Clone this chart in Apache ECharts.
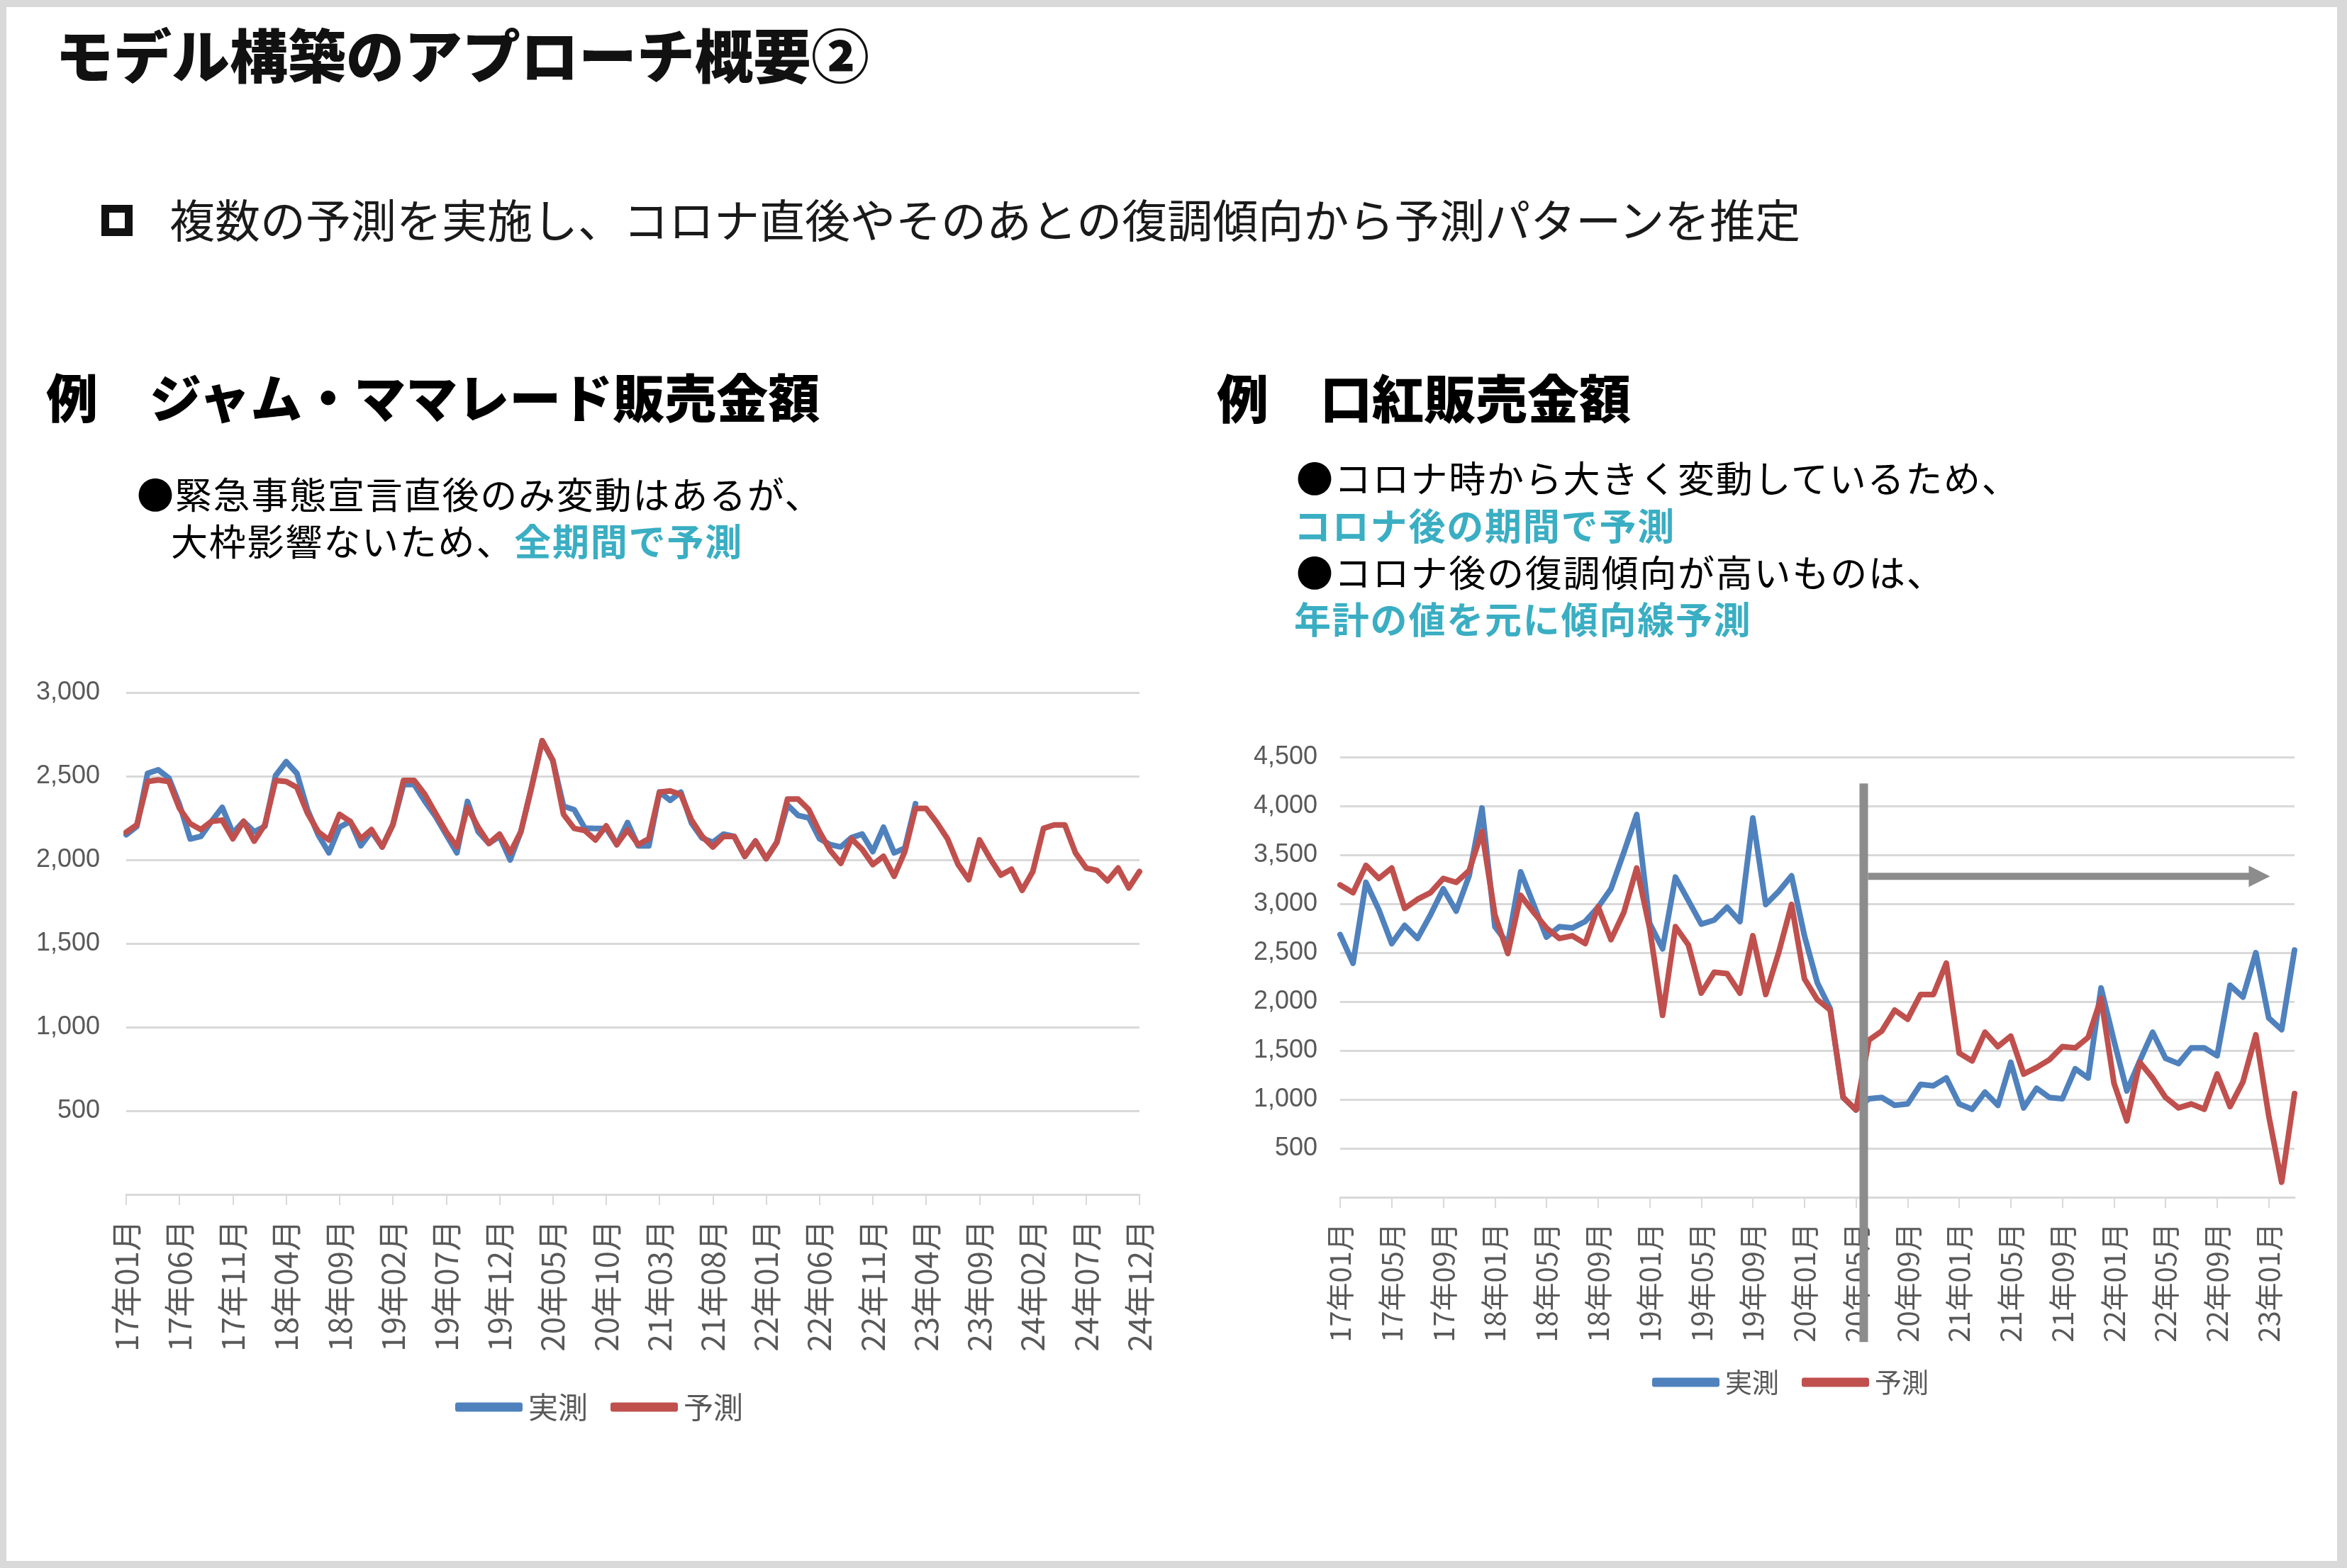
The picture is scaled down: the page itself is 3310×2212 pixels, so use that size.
<!DOCTYPE html>
<html lang="ja">
<head>
<meta charset="utf-8">
<title>モデル構築のアプローチ概要②</title>
<script src="https://cdn.jsdelivr.net/npm/echarts@6/dist/echarts.min.js"></script>
<style>
  html, body { margin: 0; padding: 0; }
  body {
    width: 3310px; height: 2212px; position: relative; overflow: hidden;
    background: #d9d9d9;
    font-family: "Noto Sans CJK JP", "Noto Sans", sans-serif; color: #000;
  }
  .sheet { position: absolute; left: 9px; top: 10px; width: 3287px; height: 2192px; background: #fff; }
  #chart { position: absolute; left: 0; top: 0; width: 3310px; height: 2212px; }
  .txt { position: absolute; white-space: nowrap; line-height: 1; }
  .title { left: 78px; top: 34px; font-size: 82px; font-weight: 900; color: #111; }
  .box { position: absolute; left: 143px; top: 289px; width: 22px; height: 22px; border: 11px solid #111; }
  .lead { left: 239px; top: 275px; font-size: 64px; color: #1a1a1a; }
  .head { font-size: 73px; font-weight: 900; }
  .note { font-size: 52px; letter-spacing: 1.8px; }
  .hl { color: #3aaec3; font-weight: bold; }
</style>
</head>
<body>
<div class="sheet"></div>
<div id="chart"></div>

<div class="txt title">モデル構築のアプローチ概要②</div>
<div class="box"></div>
<div class="txt lead">複数の予測を実施し、コロナ直後やそのあとの復調傾向から予測パターンを推定</div>

<div class="txt head" style="left:65px; top:521px;">例　ジャム・ママレード販売金額</div>
<div class="txt note" style="left:193px; top:670px;">●緊急事態宣言直後のみ変動はあるが、</div>
<div class="txt note" style="left:241px; top:736px;">大枠影響ないため、<span class="hl">全期間で予測</span></div>

<div class="txt head" style="left:1716px; top:522px;">例　口紅販売金額</div>
<div class="txt note" style="left:1828px; top:647px;">●コロナ時から大きく変動しているため、</div>
<div class="txt note hl" style="left:1825px; top:714px;">コロナ後の期間で予測</div>
<div class="txt note" style="left:1828px; top:780px;">●コロナ後の復調傾向が高いものは、</div>
<div class="txt note hl" style="left:1825px; top:846px;">年計の値を元に傾向線予測</div>

<script>
// 月ラベル（yy年mm月）
const monthLabels = (startYear, count) => {
  const out = [];
  for (let i = 0; i < count; i++) {
    const y = startYear + Math.floor(i / 12);
    const m = (i % 12) + 1;
    out.push(`${y}年${String(m).padStart(2, "0")}月`);
  }
  return out;
};

// ジャム・ママレード販売金額 17年01月〜24年12月
const jamMonths = monthLabels(17, 96);
const jamActual = [
  2150, 2200, 2517, 2538, 2489, 2330, 2125, 2140, 2230, 2314,
  2160, 2230, 2168, 2200, 2503, 2587, 2517, 2300, 2150, 2042,
  2195, 2230, 2084, 2170, 2077, 2210, 2450, 2450, 2350, 2260,
  2150, 2042, 2349, 2168, 2098, 2140, 2000, 2168, 2433, 2712,
  2594, 2321, 2300, 2190, 2188, 2188, 2091, 2223, 2084, 2084,
  2405, 2356, 2405, 2220, 2130, 2105, 2154, 2140, 2021, 2112,
  2007, 2105, 2328, 2265, 2251, 2126, 2091, 2077, 2133, 2154,
  2049, 2195, 2042, 2070, 2335,
];
const jamForecast = [
  2165, 2210, 2468, 2478, 2468, 2307, 2216, 2181, 2230, 2237,
  2126, 2230, 2112, 2210, 2475, 2468, 2433, 2279, 2168, 2119,
  2272, 2230, 2126, 2181, 2077, 2210, 2475, 2475, 2391, 2279,
  2168, 2077, 2314, 2195, 2098, 2154, 2042, 2168, 2433, 2712,
  2594, 2272, 2188, 2175, 2119, 2203, 2091, 2180, 2091, 2126,
  2405, 2412, 2391, 2237, 2140, 2077, 2140, 2140, 2021, 2112,
  2007, 2105, 2363, 2363, 2300, 2168, 2056, 1979, 2126, 2063,
  1972, 2021, 1902, 2049, 2307, 2307, 2223, 2126, 1972, 1881,
  2119, 2007, 1909, 1944, 1818, 1930, 2188, 2209, 2209, 2042,
  1951, 1937, 1874, 1951, 1832, 1930,
];

// 口紅販売金額 17年01月〜23年03月
const lipMonths = monthLabels(17, 75);
const lipActual = [
  2686, 2393, 3219, 2939, 2593, 2779, 2646, 2886, 3153, 2926,
  3286, 3979, 2766, 2593, 3326, 2993, 2660, 2766, 2753, 2819,
  2966, 3153, 3526, 3912, 2800, 2540, 3273, 3033, 2793, 2833,
  2966, 2819, 3877, 2993, 3126, 3286, 2673, 2193, 1927, 1020,
  893, 1007, 1020, 940, 954, 1154, 1140, 1220, 954, 900,
  1074, 940, 1380, 914, 1114, 1020, 1007, 1314, 1220, 2140,
  1600, 1087, 1394, 1687, 1420, 1367, 1527, 1527, 1447, 2167,
  2047, 2500, 1833, 1713, 2527,
];
const lipForecast = [
  3193, 3113, 3392, 3259, 3366, 2953, 3046, 3113, 3259, 3219,
  3339, 3739, 2886, 2492, 3086, 2913, 2753, 2646, 2673, 2593,
  2971, 2633, 2913, 3366, 2750, 1860, 2766, 2580, 2087, 2300,
  2286, 2087, 2673, 2073, 2500, 2993, 2233, 2020, 1913, 1020,
  893, 1607, 1700, 1913, 1820, 2073, 2073, 2393, 1474, 1394,
  1687, 1540, 1647, 1260, 1327, 1407, 1540, 1527, 1634, 2033,
  1167, 781, 1380, 1220, 1020, 914, 954, 900, 1260, 927,
  1180, 1660, 834, 154, 1060,
];

// コロナ後の区切り（月インデックス）と矢印の高さ
const splitIndex = 40.6;
const arrowEndIndex = 72.1;
const arrowLevel = 3280;

const BLUE = "#4f81bd";
const RED = "#c0504d";
const GRID = "#d9d9d9";
const LABEL = "#595959";
const JP = '"Noto Sans CJK JP", "Noto Sans", sans-serif';

const catAxis = (gridIndex, data, step, fontSize) => ({
  type: "category",
  gridIndex,
  data,
  boundaryGap: false,
  axisLine: { lineStyle: { color: GRID, width: 3 } },
  axisTick: { interval: step - 1, length: 15, lineStyle: { color: GRID, width: 2 } },
  axisLabel: {
    interval: step - 1,
    rotate: 90,
    margin: 36,
    fontSize,
    color: LABEL,
    fontFamily: JP,
  },
  splitLine: { show: false },
});

const valAxis = (gridIndex, max, margin) => ({
  type: "value",
  gridIndex,
  min: 0,
  max,
  interval: 500,
  axisLine: { show: false },
  axisTick: { show: false },
  axisLabel: {
    margin,
    fontSize: 36,
    color: LABEL,
    fontFamily: '"Liberation Sans", Arial, sans-serif',
    formatter: (v) => (v === 0 ? "" : v.toLocaleString("en-US")),
  },
  splitLine: { lineStyle: { color: GRID, width: 3 } },
});

const lineSeries = (name, data, color, idx) => ({
  name,
  type: "line",
  xAxisIndex: idx,
  yAxisIndex: idx,
  data,
  showSymbol: false,
  symbol: "none",
  smooth: false,
  lineStyle: { color, width: 8, cap: "round", join: "round" },
  itemStyle: { color },
  animation: false,
});

const legendBase = (left, top, fontSize) => ({
  left,
  top,
  padding: 0,
  itemWidth: 95,
  itemHeight: 13,
  itemGap: 32,
  icon: "roundRect",
  data: ["実測", "予測"],
  selectedMode: false,
  textStyle: { fontSize, color: LABEL, fontFamily: JP, padding: [0, 0, 0, 3] },
});

const chart = echarts.init(document.getElementById("chart"), null, { renderer: "canvas" });

chart.setOption({
  animation: false,
  grid: [
    { left: 178, top: 977, width: 1429, height: 708 },
    { left: 1890, top: 1068, width: 1346, height: 621 },
  ],
  xAxis: [catAxis(0, jamMonths, 5, 44), catAxis(1, lipMonths, 4, 40)],
  yAxis: [valAxis(0, 3000, 37), valAxis(1, 4500, 32)],
  legend: [legendBase(642, 1964, 42), legendBase(2330, 1931, 38)],
  series: [
    lineSeries("実測", jamActual, BLUE, 0),
    lineSeries("予測", jamForecast, RED, 0),
    lineSeries("実測", lipActual, BLUE, 1),
    lineSeries("予測", lipForecast, RED, 1),
  ],
});

// 区切り線と矢印（口紅チャートの座標から算出）
const xAt = (idx) => {
  const a = Math.floor(idx);
  const f = idx - a;
  const x0 = chart.convertToPixel({ xAxisIndex: 1 }, lipMonths[a]);
  const x1 = chart.convertToPixel({ xAxisIndex: 1 }, lipMonths[Math.min(a + 1, lipMonths.length - 1)]);
  return x0 + (x1 - x0) * f;
};
const yAt = (v) => chart.convertToPixel({ yAxisIndex: 1 }, v);

const splitX = xAt(splitIndex);
const tipX = xAt(arrowEndIndex);
const arrowY = yAt(arrowLevel);
const lineTop = yAt(4230);
const lineBottom = yAt(-1480);

chart.setOption({
  graphic: [
    {
      type: "rect",
      z: 100,
      shape: { x: splitX - 6, y: lineTop, width: 12, height: lineBottom - lineTop },
      style: { fill: "#8c8c8c" },
    },
    {
      type: "line",
      z: 100,
      shape: { x1: splitX + 6, y1: arrowY, x2: tipX - 26, y2: arrowY },
      style: { stroke: "#8c8c8c", lineWidth: 10 },
    },
    {
      type: "polygon",
      z: 100,
      shape: { points: [[tipX - 30, arrowY - 15], [tipX, arrowY], [tipX - 30, arrowY + 15]] },
      style: { fill: "#8c8c8c" },
    },
  ],
});
</script>
</body>
</html>
